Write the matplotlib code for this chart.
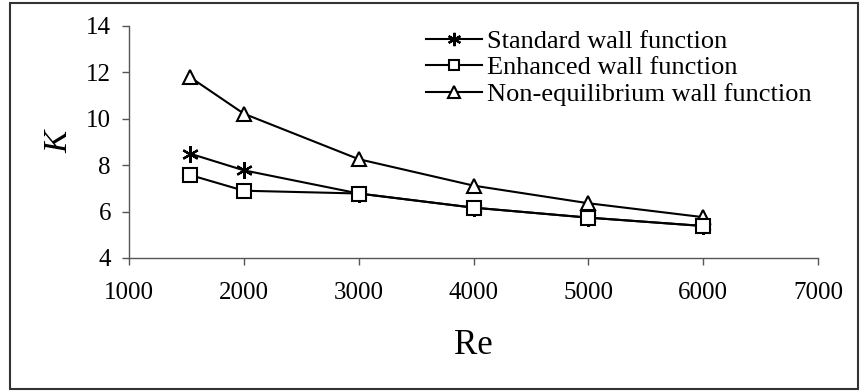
import matplotlib.pyplot as plt
import numpy as np
from matplotlib.patches import Rectangle

plt.rcParams['font.family'] = ['Liberation Serif', 'DejaVu Serif']

# Re values and K for each wall treatment
re = np.array([1530, 2000, 3000, 4000, 5000, 6000])
k_standard = np.array([8.5, 7.78, 6.78, 6.17, 5.74, 5.38])
k_enhanced = np.array([7.58, 6.9, 6.78, 6.17, 5.74, 5.38])
k_noneq = np.array([11.8, 10.22, 8.26, 7.12, 6.36, 5.76])
labels = ['Standard wall function', 'Enhanced wall function',
          'Non-equilibrium wall function']

fig = plt.figure(figsize=(8.6, 3.92), dpi=100)
ax = fig.add_axes([129/860, 1 - 258/392, (818-129)/860, (258-26)/392])

ax.plot(re, k_noneq, color='black', lw=1.5, marker='^', ms=10,
        mfc='white', mec='black', mew=1.5, label=labels[2], zorder=2)
ax.plot(re, k_enhanced, color='black', lw=1.5, marker='s', ms=9.5,
        mfc='white', mec='black', mew=1.5, label=labels[1], zorder=3)
ax.plot(re, k_standard, color='black', lw=1.5, marker=(6, 2, 0), ms=12,
        mec='black', mew=1.6, label=labels[0], zorder=2)

ax.set_xlim(1000, 7000)
ax.set_ylim(4, 14)
ax.set_xticks(np.arange(1000, 7001, 1000))
ax.set_yticks(np.arange(4, 15, 2))
for s in ['top', 'right']:
    ax.spines[s].set_visible(False)
for s in ['left', 'bottom']:
    ax.spines[s].set_color('#555555')
    ax.spines[s].set_linewidth(1.0)
ax.tick_params(axis='both', direction='out', length=5, width=1.0,
               color='#555555', labelsize=18)
ax.tick_params(axis='x', pad=12)
ax.tick_params(axis='y', pad=8)

ax.set_xlabel('Re', fontsize=25, labelpad=18)
ax.set_ylabel('K', fontsize=24, style='italic', rotation=90, labelpad=8)

h, l = ax.get_legend_handles_labels()
leg = ax.legend(h[::-1], l[::-1], loc='upper left', bbox_to_anchor=(0.416, 1.03),
                frameon=False, fontsize=19, handlelength=2.1,
                handletextpad=0.2, labelspacing=0.11, markerscale=0.8,
                borderaxespad=0)

fig.patches.append(Rectangle((10/860, 3/392), 848/860, 386/392,
                             transform=fig.transFigure, fill=False,
                             edgecolor='#333333', lw=1.5))

fig.savefig('out.png', dpi=100)
